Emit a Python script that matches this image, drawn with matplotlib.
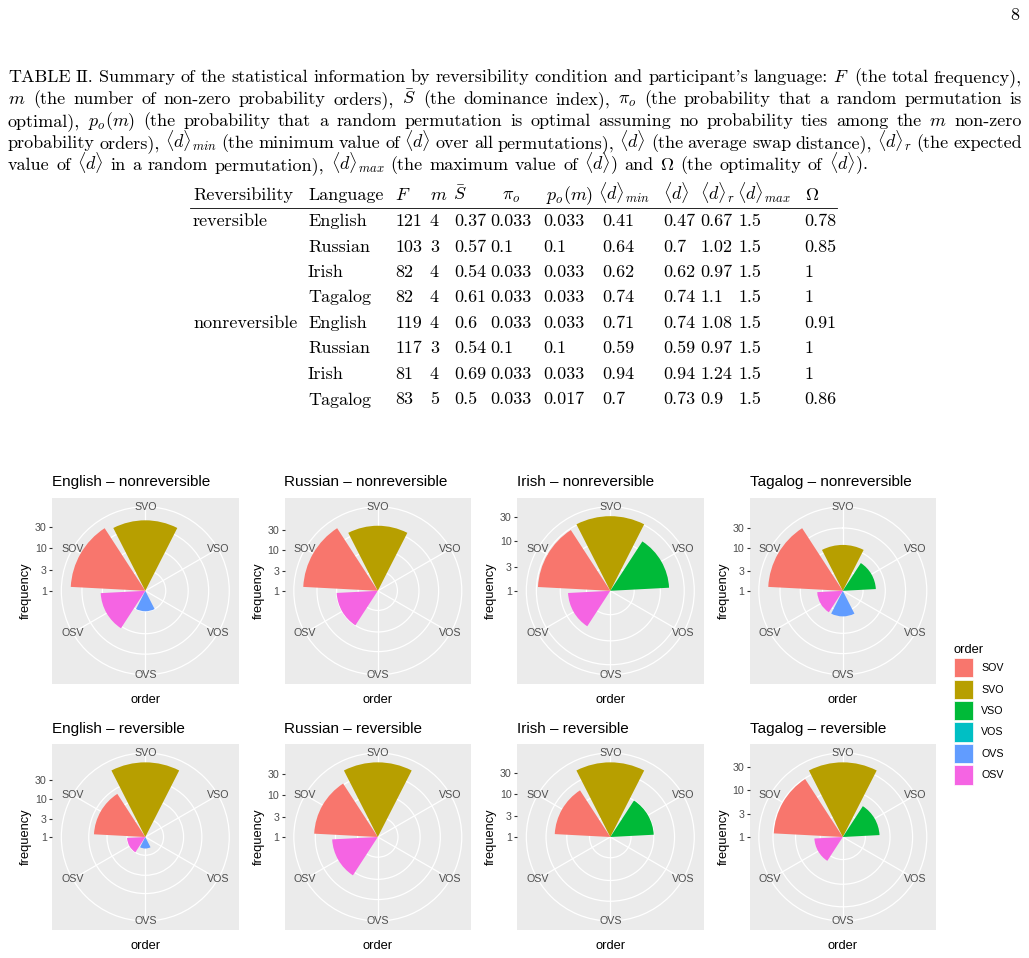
import numpy as np
import matplotlib
matplotlib.use('Agg')
import matplotlib.pyplot as plt
from matplotlib.patches import Patch

plt.rcParams['mathtext.fontset'] = 'cm'
plt.rcParams['axes.formatter.use_mathtext'] = True

W, H, DPI = 1029, 958, 100

# ---------------- data ----------------
orders = ['SOV', 'SVO', 'VSO', 'VOS', 'OVS', 'OSV']
order_colors = ['#F8766D', '#B79F00', '#00BA38', '#00BFC4', '#619CFF', '#F564E3']
languages = ['English', 'Russian', 'Irish', 'Tagalog']
conditions = ['nonreversible', 'reversible']

# counts per order (SOV, SVO, VSO, VOS, OVS, OSV)
nonrev_english = [55, 44, 0, 0, 3, 11]
nonrev_russian = [65, 38, 0, 0, 0, 10]
nonrev_irish = [28, 31, 15, 0, 0, 7]
nonrev_tagalog = [57, 12, 6, 0, 4, 4]
rev_english = [22, 89, 0, 0, 2, 3]
rev_russian = [32, 58, 0, 0, 0, 12]
rev_irish = [19, 52, 10, 0, 0, 1]
rev_tagalog = [29, 38, 6, 0, 0, 4]

freq_breaks = [1, 3, 10, 30, 100]

# table
tab_header = ['Reversibility', 'Language', '$F$', '$m$', r'$\bar{S}$', r'$\pi_o$',
              '$p_o(m)$', r'$\langle{d}\rangle_{min}$', r'$\langle{d}\rangle$',
              r'$\langle{d}\rangle_r$', r'$\langle{d}\rangle_{max}$', r'$\Omega$']
tab_rev = ['reversible', '', '', '', 'nonreversible', '', '', '']
tab_lang = ['English', 'Russian', 'Irish', 'Tagalog', 'English', 'Russian', 'Irish', 'Tagalog']
tab_F = ['121', '103', '82', '82', '119', '117', '81', '83']
tab_m = ['4', '3', '4', '4', '4', '3', '4', '5']
tab_S = ['0.37', '0.57', '0.54', '0.61', '0.6', '0.54', '0.69', '0.5']
tab_pi = ['0.033', '0.1', '0.033', '0.033', '0.033', '0.1', '0.033', '0.033']
tab_po = ['0.033', '0.1', '0.033', '0.033', '0.033', '0.1', '0.033', '0.017']
tab_dmin = ['0.41', '0.64', '0.62', '0.74', '0.71', '0.59', '0.94', '0.7']
tab_d = ['0.47', '0.7', '0.62', '0.74', '0.74', '0.59', '0.94', '0.73']
tab_dr = ['0.67', '1.02', '0.97', '1.1', '1.08', '0.97', '1.24', '0.9']
tab_dmax = ['1.5', '1.5', '1.5', '1.5', '1.5', '1.5', '1.5', '1.5']
tab_omega = ['0.78', '0.85', '1', '1', '0.91', '1', '1', '0.86']

caption_lines = [
    "TABLE II. Summary of the statistical information by reversibility condition and participant's language: $F$ (the total frequency),",
    r"$m$ (the number of non-zero probability orders), $\bar{S}$ (the dominance index), $\pi_o$ (the probability that a random permutation is",
    "optimal), $p_o(m)$ (the probability that a random permutation is optimal assuming no probability ties among the $m$ non-zero",
    r"probability orders), $\langle{d}\rangle_{min}$ (the minimum value of $\langle{d}\rangle$ over all permutations), $\langle{d}\rangle$ (the average swap distance), $\langle{d}\rangle_r$ (the expected",
    r"value of $\langle{d}\rangle$ in a random permutation), $\langle{d}\rangle_{max}$ (the maximum value of $\langle{d}\rangle$) and $\Omega$ (the optimality of $\langle{d}\rangle$).",
]
page_number = '8'

# ---------------- figure ----------------
fig = plt.figure(figsize=(W / DPI, H / DPI), dpi=DPI)
fig.patch.set_facecolor('white')
renderer = fig.canvas.get_renderer()

SERIF = 'cmr10'
TXT = 13.0


def fx(px):
    return px / W


def fy(py):
    return 1 - py / H


fig.text(fx(1019), fy(20), page_number, family=SERIF, fontsize=TXT, ha='right', va='baseline')

# justified caption
cap_base = [82, 104, 126, 148, 170]
for i, line in enumerate(caption_lines):
    words = line.split(' ')
    ts = [fig.text(0, fy(cap_base[i]), w, family=SERIF, fontsize=TXT, ha='left', va='baseline')
          for w in words]
    widths = [t.get_window_extent(renderer).width for t in ts]
    if i == len(caption_lines) - 1:
        gap = TXT * DPI / 72 * 0.36
    else:
        gap = (1022 - 8 - sum(widths)) / (len(words) - 1)
    x = 8
    for t, w in zip(ts, widths):
        t.set_x(fx(x))
        x += w + gap

# table
hdr_x = [193, 308, 395, 430, 453, 502, 546, 598, 663, 700, 737, 805]
dat_x = [193, 308, 395, 430, 454, 490, 543, 602, 663, 700, 738, 804]
hdr_base = 200
row_base0 = 226
row_step = 25.5
for x, h in zip(hdr_x, tab_header):
    fig.text(fx(x), fy(hdr_base), h, family=SERIF, fontsize=TXT, ha='left', va='baseline')
fig.add_artist(plt.Line2D([fx(190), fx(837)], [fy(207.5), fy(207.5)], color='black', lw=0.6))
cols = [tab_rev, tab_lang, tab_F, tab_m, tab_S, tab_pi, tab_po, tab_dmin, tab_d, tab_dr, tab_dmax, tab_omega]
for r in range(len(tab_lang)):
    for x, col in zip(dat_x, cols):
        fig.text(fx(x), fy(row_base0 + r * row_step), col[r], family=SERIF, fontsize=TXT,
                 ha='left', va='baseline')

# polar plots
SANS = 'Liberation Sans'
SMALL = 7.7
panel = 186.6
col_left = [52, 284.5, 517, 749.5]
row_top = [497.5, 743.7]
data = {('nonreversible', 'English'): nonrev_english, ('nonreversible', 'Russian'): nonrev_russian,
        ('nonreversible', 'Irish'): nonrev_irish, ('nonreversible', 'Tagalog'): nonrev_tagalog,
        ('reversible', 'English'): rev_english, ('reversible', 'Russian'): rev_russian,
        ('reversible', 'Irish'): rev_irish, ('reversible', 'Tagalog'): rev_tagalog}

n_ord = len(orders)
# discrete theta scale: SVO at top, clockwise
theta = np.mod(2 * np.pi * (np.arange(n_ord) - 1) / n_ord, 2 * np.pi)
bar_w = 0.9 * 2 * np.pi / n_ord

for ri, cond in enumerate(conditions):
    for ci, lang in enumerate(languages):
        counts = np.array(data[(cond, lang)], dtype=float)
        heights = np.log10(np.maximum(counts, 1))
        rmax = heights.max()
        left, top = col_left[ci], row_top[ri]
        bg = fig.add_axes([fx(left), fy(top + panel), panel / W, panel / H])
        bg.set_facecolor('#EBEBEB')
        half = rmax * 0.5 / 0.4
        bg.set_xlim(-half, half)
        bg.set_ylim(-half, half)
        ticks = [b for b in freq_breaks if np.log10(b) <= rmax + 1e-9]
        bg.set_xticks([])
        bg.set_yticks(np.log10(ticks))
        bg.set_yticklabels([str(b) for b in ticks], family=SANS)
        for s in bg.spines.values():
            s.set_visible(False)
        bg.tick_params(axis='y', length=2.3, width=0.8, color='#333333', labelcolor='#4D4D4D',
                       labelsize=SMALL, pad=1.5)
        bg.set_ylabel('frequency', family=SANS, fontsize=9.3, labelpad=2)
        bg.set_xlabel('order', family=SANS, fontsize=9.3, labelpad=7)
        bg.set_title(f'{lang} \u2013 {cond}', loc='left', family=SANS, fontsize=11, pad=8)

        inner = panel * 0.9
        off = panel * 0.05
        pax = fig.add_axes([fx(left + off), fy(top + off + inner), inner / W, inner / H],
                           projection='polar')
        pax.set_facecolor('none')
        pax.set_theta_zero_location('N')
        pax.set_theta_direction(-1)
        pax.set_axisbelow(True)
        rout = rmax * 0.45 / 0.4
        pax.set_xticks(theta)
        pax.set_xticklabels([])
        pax.set_yticks(np.log10([b for b in ticks if b > 1]))
        pax.set_yticklabels([])
        pax.bar(theta, heights, width=bar_w, bottom=0, color=order_colors, edgecolor='none', zorder=3)
        for th, lab in zip(theta, orders):
            pax.text(th, rout, lab, ha='center', va='center', family=SANS, fontsize=SMALL,
                     color='#4D4D4D', zorder=4)
        pax.set_xlim(0, 2 * np.pi)
        pax.set_ylim(0, rout)
        pax.grid(True, color='white', lw=0.9)
        pax.tick_params(length=0)
        pax.spines['polar'].set_color('white')
        pax.spines['polar'].set_linewidth(0.9)

handles = [Patch(facecolor=c, edgecolor='white', lw=0.5) for c in order_colors]
fig.legend(handles, orders, title='order', loc='upper left', bbox_to_anchor=(fx(954), fy(644)),
           frameon=False, borderpad=0, borderaxespad=0, handletextpad=0.75,
           prop={'family': SANS, 'size': SMALL}, title_fontproperties={'family': SANS, 'size': 9.3},
           handlelength=1.8, handleheight=2.4, labelspacing=0.2, alignment='left')

fig.savefig('out.png', dpi=DPI, facecolor='white')
